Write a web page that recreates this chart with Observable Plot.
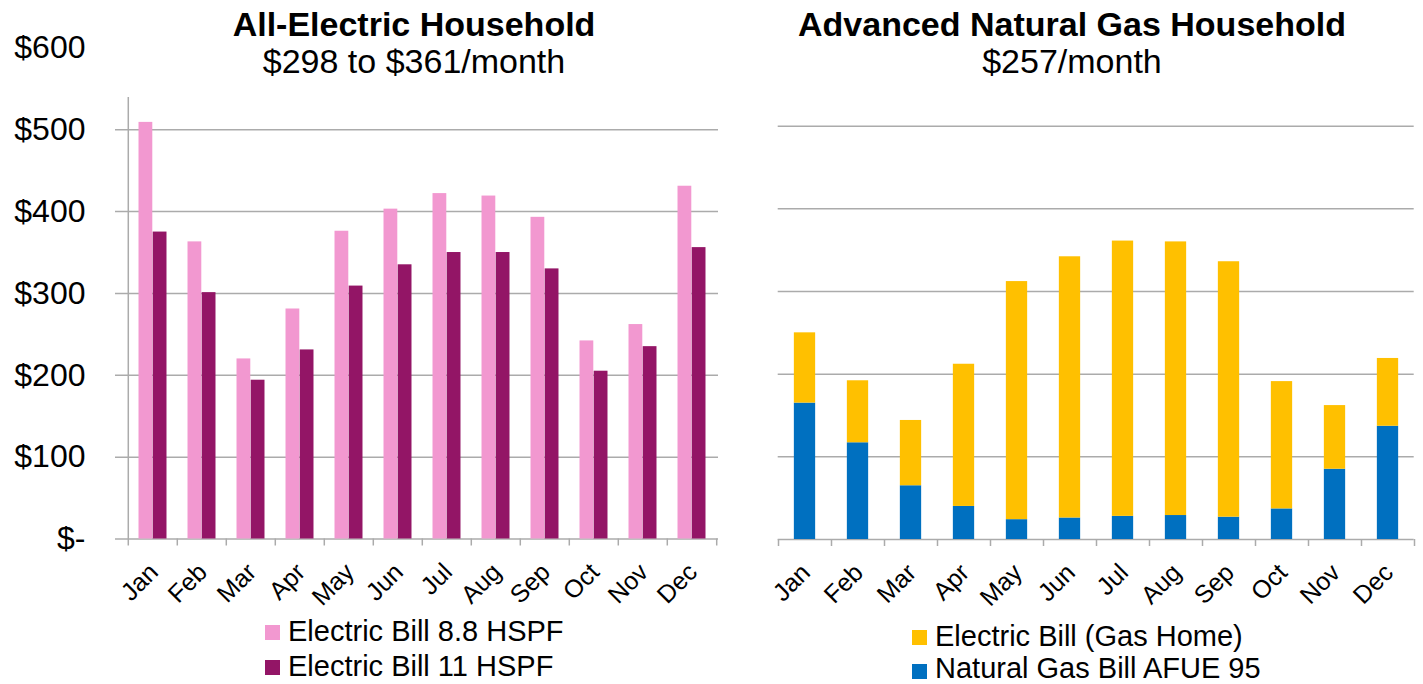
<!DOCTYPE html>
<html>
<head>
<meta charset="utf-8">
<script src="https://cdn.jsdelivr.net/npm/d3@7"></script>
<script src="https://cdn.jsdelivr.net/npm/@observablehq/plot@0.6"></script>
<style>
  body { margin: 0; background: #fff; font-family: "Liberation Sans", Arial, sans-serif; }
  #wrap { position: relative; width: 1423px; height: 684px; overflow: hidden; background: #fff; }
  .chart { position: absolute; top: 0; }
  .t { position: absolute; white-space: nowrap; line-height: 1; color: #000; transform: translateX(-50%); }
  .title { font-weight: bold; font-size: 34px; }
  .sub { font-size: 34px; }
  .lg { position: absolute; white-space: nowrap; line-height: 1; font-size: 29px; color: #000; }
  .sw { position: absolute; width: 15px; height: 15px; }
</style>
</head>
<body>
<div id="wrap"></div>
<script>
// ---------- data ----------
const months = ["Jan","Feb","Mar","Apr","May","Jun","Jul","Aug","Sep","Oct","Nov","Dec"];
const elecBill88 = [509, 363, 220, 281, 376, 403, 422, 419, 393, 242, 262, 431];
const elecBill11 = [375, 301, 194, 231, 309, 335, 350, 350, 330, 205, 235, 356];
const gasHomeElecBill = [85, 75, 79, 172, 288, 316, 333, 331, 309, 154, 77, 82];
const naturalGasBill = [165, 117, 65, 40, 24, 26, 28, 29, 27, 37, 85, 137];
const yTicks = [0, 100, 200, 300, 400, 500, 600];
const yTickLabels = ["$-", "$100", "$200", "$300", "$400", "$500", "$600"];
const gridTicks = [0, 100, 200, 300, 400, 500];
const leftSeries = ["Electric Bill 8.8 HSPF", "Electric Bill 11 HSPF"];
const rightSeries = ["Natural Gas Bill AFUE 95", "Electric Bill (Gas Home)"];
const leftTitle = "All-Electric Household", leftSub = "$298 to $361/month";
const rightTitle = "Advanced Natural Gas Household", rightSub = "$257/month";

const COLORS = { pink: "#f298d0", purple: "#931566", yellow: "#ffc000", blue: "#0070c0", grid: "#ababab" };
const FONT = '"Liberation Sans", Arial, sans-serif';
const wrap = document.getElementById("wrap");

// ---------- left chart ----------
const H = 610;
const L = { width: 730, ml: 125, mr: 12, mt: 47.4, mb: 71.5 };
const bwL = (L.width - L.ml - L.mr) / months.length;
const barWL = 14.2;
const leftData = months.map((m, i) => ({ month: m, a: elecBill88[i], b: elecBill11[i] }));

const left = Plot.plot({
  width: L.width, height: H,
  marginLeft: L.ml, marginRight: L.mr, marginTop: L.mt, marginBottom: L.mb,
  style: { fontFamily: FONT, background: "transparent", overflow: "visible", color: "#000" },
  x: { domain: months, padding: 0, axis: null },
  y: { domain: [0, 600], axis: null },
  marks: [
    Plot.ruleY(gridTicks, { stroke: COLORS.grid, strokeWidth: 1.5, insetLeft: -10 }),
    Plot.barY(leftData, { x: "month", y: "a", fill: COLORS.pink, insetLeft: bwL / 2 - barWL, insetRight: bwL / 2 }),
    Plot.barY(leftData, { x: "month", y: "b", fill: COLORS.purple, insetLeft: bwL / 2, insetRight: bwL / 2 - barWL }),
    // y axis line
    Plot.ruleX([months[0]], { x: d => d, dx: -bwL / 2, stroke: COLORS.grid, strokeWidth: 1.5, insetTop: 97 - L.mt, insetBottom: -7 }),
    // x tick marks between categories
    Plot.ruleX(months.slice(1), { x: d => d, dx: -bwL / 2, stroke: COLORS.grid, strokeWidth: 1.5, insetTop: H - L.mt - L.mb, insetBottom: -7 }),
    Plot.ruleX([months[months.length - 1]], { x: d => d, dx: bwL / 2, stroke: COLORS.grid, strokeWidth: 1.5, insetTop: H - L.mt - L.mb, insetBottom: -7 }),
    Plot.axisY({ ticks: yTicks, tickSize: 0, tickPadding: 40, fontSize: 32, fill: "#000", label: null, tickFormat: d => yTickLabels[yTicks.indexOf(d)] }),
    Plot.axisX({ tickSize: 0, tickRotate: -45, tickPadding: 29, dx: 1, fontSize: 25, fill: "#000", label: null })
  ]
});
left.classList.add("chart");
left.style.left = "0px";
wrap.appendChild(left);

// ---------- right chart ----------
const R = { left: 730, width: 693, ml: 47.7, mr: 9.3, mt: 43, mb: 71 };
const bwR = (R.width - R.ml - R.mr) / months.length;
const barWR = 21.3;
const rightData = months.flatMap((m, i) => [
  { month: m, series: rightSeries[0], value: naturalGasBill[i] },
  { month: m, series: rightSeries[1], value: gasHomeElecBill[i] }
]);

const right = Plot.plot({
  width: R.width, height: H,
  marginLeft: R.ml, marginRight: R.mr, marginTop: R.mt, marginBottom: R.mb,
  style: { fontFamily: FONT, background: "transparent", overflow: "visible", color: "#000" },
  x: { domain: months, padding: 0, axis: null },
  y: { domain: [0, 600], axis: null },
  color: { domain: rightSeries, range: [COLORS.blue, COLORS.yellow] },
  marks: [
    Plot.ruleY(gridTicks, { stroke: COLORS.grid, strokeWidth: 1.5 }),
    Plot.barY(rightData, { x: "month", y: "value", fill: "series", order: rightSeries, insetLeft: (bwR - barWR) / 2, insetRight: (bwR - barWR) / 2 }),
    Plot.ruleX(months, { x: d => d, dx: -bwR / 2, stroke: COLORS.grid, strokeWidth: 1.5, insetTop: H - R.mt - R.mb, insetBottom: -7 }),
    Plot.ruleX([months[months.length - 1]], { x: d => d, dx: bwR / 2, stroke: COLORS.grid, strokeWidth: 1.5, insetTop: H - R.mt - R.mb, insetBottom: -7 }),
    Plot.axisX({ tickSize: 0, tickRotate: -45, tickPadding: 29, dx: 1, fontSize: 25, fill: "#000", label: null })
  ]
});
right.classList.add("chart");
right.style.left = R.left + "px";
wrap.appendChild(right);

// ---------- titles ----------
function addText(cls, text, x, top) {
  const d = document.createElement("div");
  d.className = "t " + cls;
  d.textContent = text;
  d.style.left = x + "px";
  d.style.top = top + "px";
  wrap.appendChild(d);
}
addText("title", leftTitle, 414, 7);
addText("sub", leftSub, 414, 44);
addText("title", rightTitle, 1072, 7);
addText("sub", rightSub, 1072, 44);

// ---------- legends ----------
function addLegend(x, top, color, text, textShift) {
  const s = document.createElement("div");
  s.className = "sw";
  s.style.left = x + "px"; s.style.top = top + "px"; s.style.background = color;
  wrap.appendChild(s);
  const t = document.createElement("div");
  t.className = "lg";
  t.textContent = text;
  t.style.left = (x + 23) + "px"; t.style.top = (top - 8 - (textShift || 0)) + "px";
  wrap.appendChild(t);
}
addLegend(265, 625, COLORS.pink, leftSeries[0]);
addLegend(265, 660, COLORS.purple, leftSeries[1]);
addLegend(912, 630, COLORS.yellow, rightSeries[1]);
addLegend(912, 664, COLORS.blue, rightSeries[0], 2);
</script>
</body>
</html>
